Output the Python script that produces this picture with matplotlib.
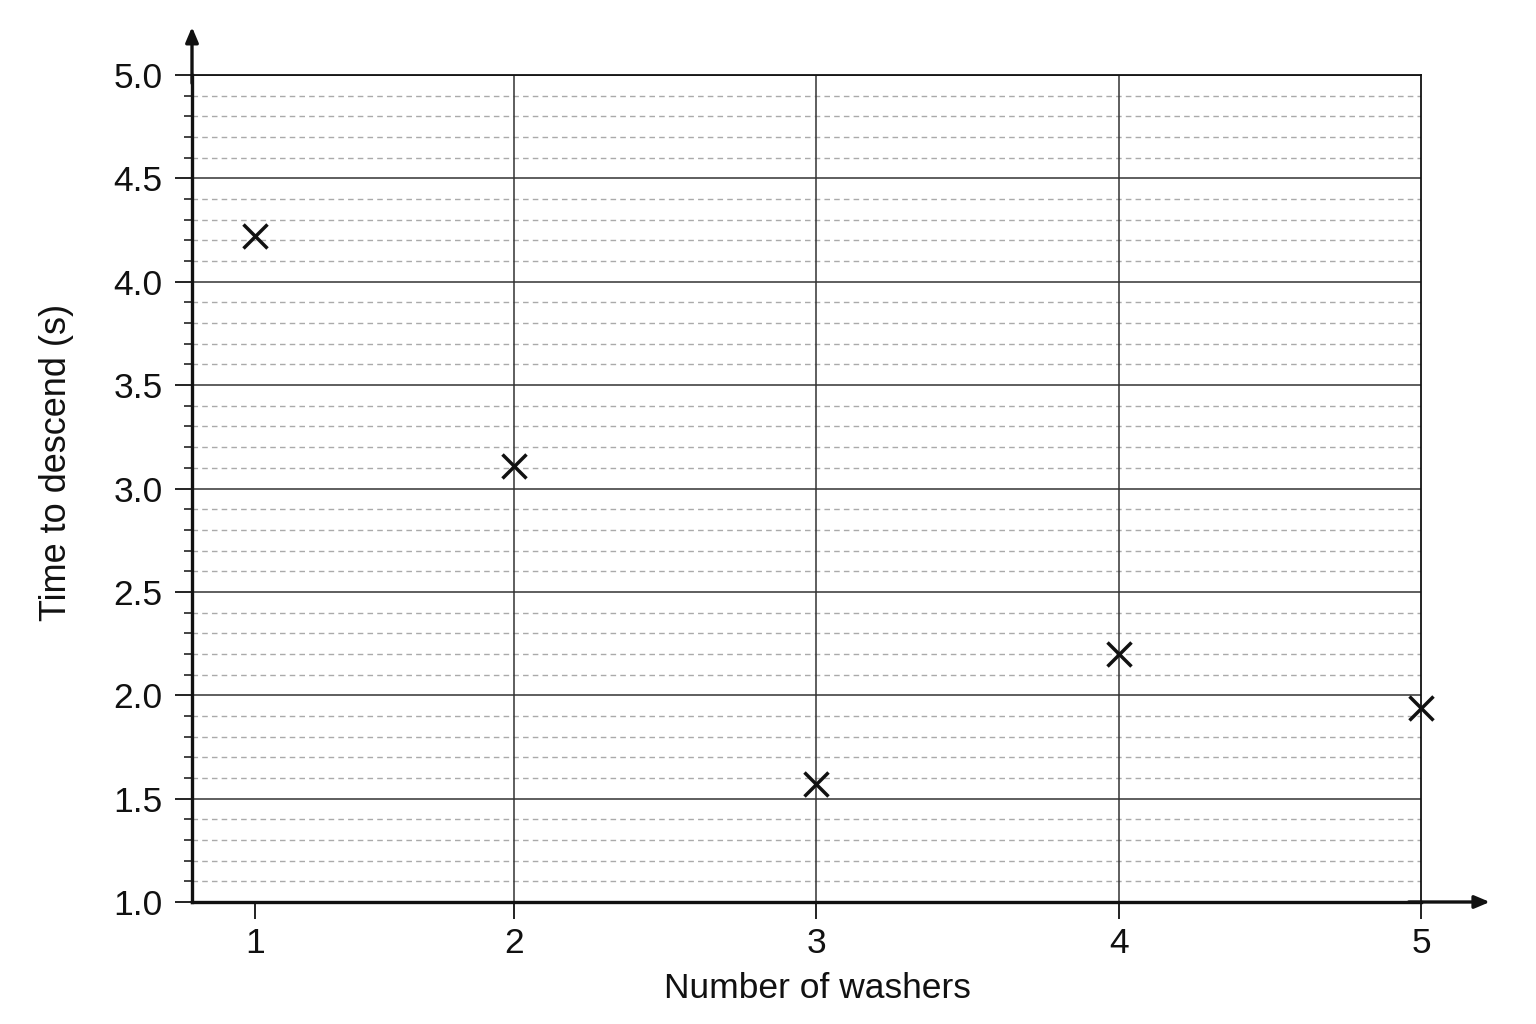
import numpy as np
import matplotlib
matplotlib.use("Agg")
import matplotlib.pyplot as plt
from matplotlib.ticker import MultipleLocator

plt.rcParams["font.family"] = ["Liberation Sans", "DejaVu Sans"]

washers = [1, 2, 3, 4, 5]
times = [4.22, 3.11, 1.57, 2.20, 1.94]
x_ticks = [1, 2, 3, 4, 5]
x_grid = [2, 3, 4]

# the printed x axis is not evenly spaced: 1 sits closer to 2 than the rest
XK = [0.75, 1, 2, 5]
UK = [192, 255, 514, 1421]


def fwd(x):
    return np.interp(x, XK, UK)


def inv(u):
    return np.interp(u, UK, XK)


INK = "#111111"
GRID = "#333333"
MINOR = "#aaaaaa"

fig = plt.figure(figsize=(15.36, 10.24), dpi=100)
ax = fig.add_axes([192 / 1536, 1 - 902 / 1024, (1421 - 192) / 1536, (902 - 75) / 1024])
ax.set_xscale("function", functions=(fwd, inv))
ax.set_xlim(0.75, 5)
ax.set_ylim(1.0, 5.0)

# grid
for v in np.arange(1.1, 5.0, 0.1):
    if abs(v * 2 - round(v * 2)) > 1e-6:
        ax.axhline(v, color=MINOR, lw=1.0, ls=(0, (4, 3)), zorder=1)
for v in np.arange(1.5, 5.01, 0.5):
    ax.axhline(v, color=GRID, lw=1.1, zorder=2)
for v in x_grid:
    ax.axvline(v, color=GRID, lw=1.1, zorder=2)

ax.plot(washers, times, ls="none", marker="x", ms=17, mew=2.5, color=INK,
        zorder=5, clip_on=False)

ax.set_xticks(x_ticks)
ax.set_xticklabels([str(t) for t in x_ticks])
ax.xaxis.set_minor_locator(plt.NullLocator())
ax.yaxis.set_major_locator(MultipleLocator(0.5))
ax.yaxis.set_minor_locator(MultipleLocator(0.1))
ax.yaxis.set_major_formatter(plt.FormatStrFormatter("%.1f"))

ax.tick_params(axis="both", which="major", direction="out", length=12, width=1.3,
               color=INK, labelsize=25.5, labelcolor=INK)
ax.tick_params(axis="x", which="major", pad=6)
ax.tick_params(axis="y", which="major", pad=9)
ax.tick_params(axis="y", which="minor", direction="out", length=6, width=1.1, color=INK)

for side in ["left", "bottom"]:
    ax.spines[side].set_linewidth(2.4)
    ax.spines[side].set_color(INK)
for side in ["top", "right"]:
    ax.spines[side].set_linewidth(1.3)
    ax.spines[side].set_color(INK)

# axis arrows
ax.annotate("", xy=(0, 1.058), xytext=(0, 0.99), xycoords="axes fraction",
            arrowprops=dict(arrowstyle="-|>,head_length=0.9,head_width=0.38",
                            color=INK, lw=2.4, shrinkA=0, shrinkB=0), annotation_clip=False)
ax.annotate("", xy=(1.056, 0), xytext=(0.99, 0), xycoords="axes fraction",
            arrowprops=dict(arrowstyle="-|>,head_length=0.9,head_width=0.38",
                            color=INK, lw=2.4, shrinkA=0, shrinkB=0), annotation_clip=False)

ax.set_xlabel("Number of washers", fontsize=25.5, color=INK, va="center")
ax.set_ylabel("Time to descend (s)", fontsize=26, color=INK, va="center")
ax.xaxis.set_label_coords(0.5085, -0.104)
ax.yaxis.set_label_coords(-0.11, 0.531)

fig.savefig("out.png", dpi=100, facecolor="white")
